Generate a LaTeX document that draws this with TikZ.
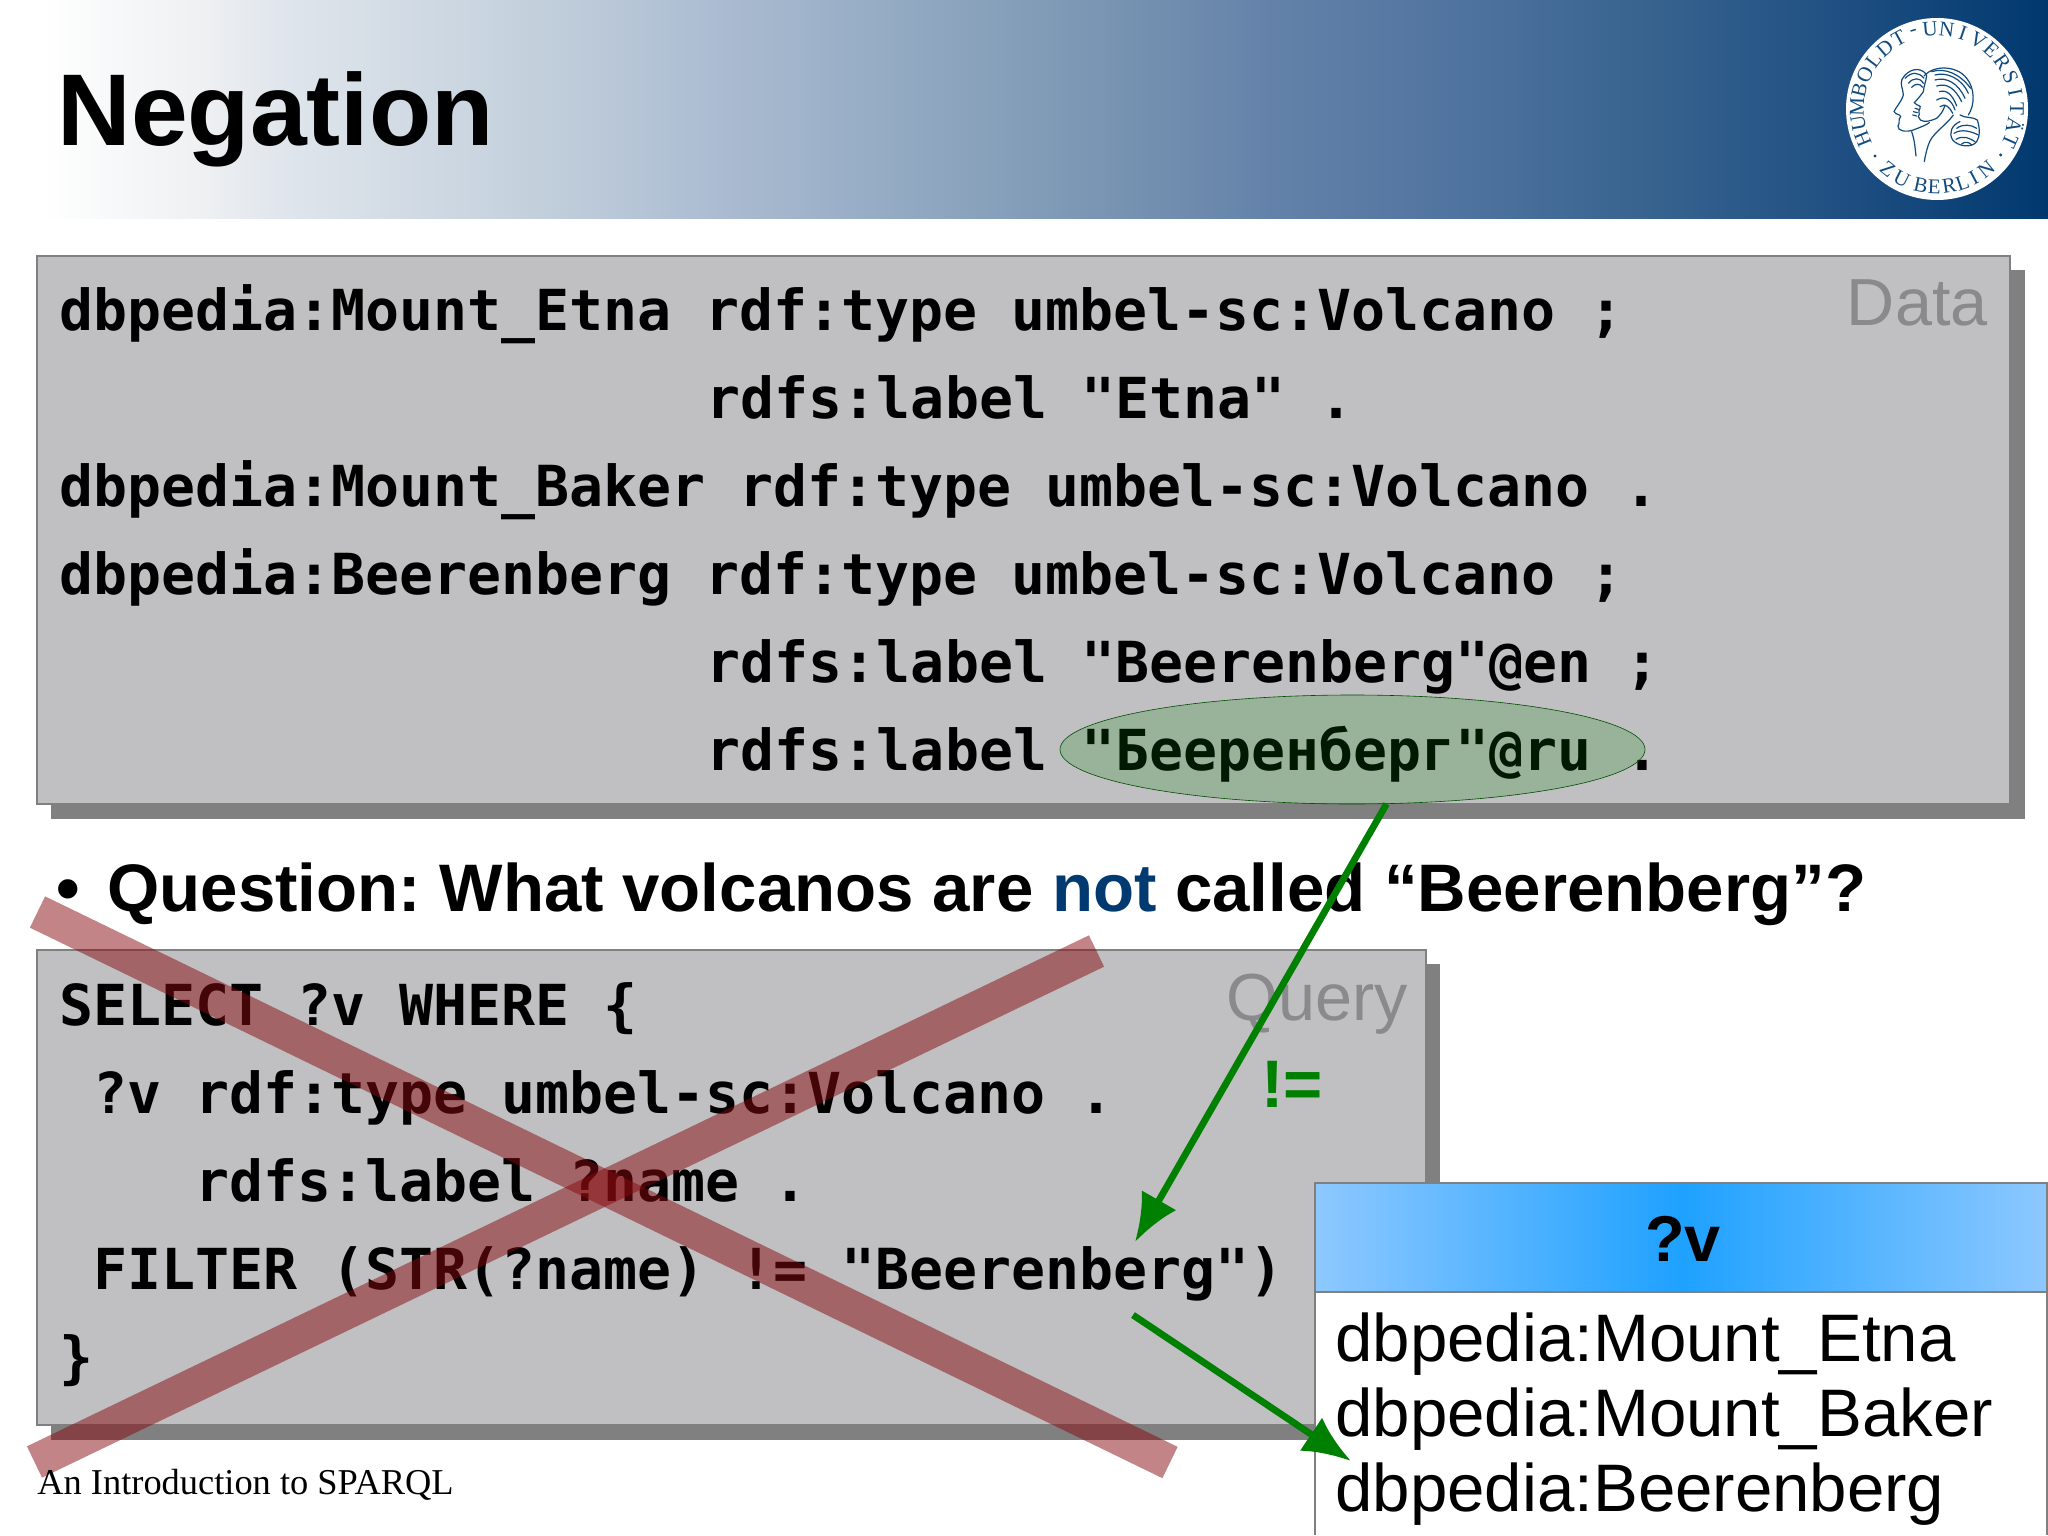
\documentclass[tikz,border=0pt]{standalone}
\usepackage{fontspec}
\usepackage{tikz}
\usetikzlibrary{arrows.meta,shapes.geometric,calc}
\setmainfont{Liberation Sans}
\newfontfamily\codefont{DejaVu Sans Mono}
\newfontfamily\footfont{Liberation Serif}
\definecolor{boxgray}{HTML}{C0BFC1}
\definecolor{shadowgray}{HTML}{808080}
\definecolor{labelgray}{HTML}{8A8A8C}
\definecolor{notblue}{HTML}{003A70}
\definecolor{arrowgreen}{HTML}{008000}
\definecolor{crossred}{HTML}{880A10}
\definecolor{tableedge}{HTML}{8EC8FF}
\definecolor{tablemid}{HTML}{1EA1FF}
\definecolor{logoblue}{HTML}{114B7E}
\pgfdeclarehorizontalshading{bannershade}{100bp}{rgb(0bp)=(1,1,1); rgb(26bp)=(1,1,1); rgb(30bp)=(.933,.941,.949); rgb(32bp)=(.875,.898,.925); rgb(38bp)=(.765,.816,.863); rgb(42bp)=(.682,.745,.827); rgb(46bp)=(.596,.682,.776); rgb(51bp)=(.494,.6,.71); rgb(56bp)=(.392,.51,.663); rgb(61bp)=(.306,.447,.62); rgb(65bp)=(.22,.392,.561); rgb(70bp)=(.122,.31,.51); rgb(75bp)=(0,.22,.431); rgb(100bp)=(0,.22,.431)}
\tikzset{
    codeline/.style={anchor=base west,inner sep=0pt,font=\codefont\bfseries\fontsize{28.25}{34}\selectfont},
    sansline/.style={anchor=base west,inner sep=0pt,font=\bfseries\fontsize{33.6}{40}\selectfont},
    boxlabel/.style={anchor=base east,inner sep=0pt,text=labelgray,font=\fontsize{33.3}{40}\selectfont},
    rowline/.style={anchor=base west,inner sep=0pt,font=\fontsize{33.6}{40}\selectfont},
    slidebox/.style={fill=boxgray,draw=shadowgray,line width=0.6pt},
    slideshadow/.style={fill=shadowgray},
    crossbar/.style={draw=crossred,opacity=0.5,line width=17.4pt},
    greenarrow/.style={draw=arrowgreen,line width=3.4pt,-{Latex[length=24pt,width=20pt]}},
    sealletter/.style={inner sep=0pt,text=logoblue,font=\footfont\fontsize{10.5}{12}\selectfont},
    sealline/.style={draw=logoblue,line width=0.6pt,line cap=round}
}
\begin{document}
\begin{tikzpicture}[x=0.5pt,y=-0.5pt]
    \useasboundingbox (0,0) rectangle (2048,1535);
    \fill[white] (0,0) rectangle (2048,1535);
    \shade[shading=bannershade] (0,0) rectangle (2048,219);
    \node[sansline,font=\bfseries\fontsize{51}{60}\selectfont] (title) at (57,146) {Negation};

    \fill[white] (1937,109) circle (91);
    \foreach \ch [count=\i from 0] in {H,U,M,B,O,L,D,T,-,U,N,I,V,E,R,S,I,T,Ä,T}{
        \pgfmathsetmacro{\ang}{202-\i*11.9}
        \node[sealletter,rotate=\ang-90] (sealtop\i) at ($(1937,109)+(-\ang:80)$) {\ch};
    }
    \foreach \ch/\ang in {Z/231,U/243,B/258,E/268,R/279,L/289,I/298,N/309}{
        \node[sealletter,rotate=\ang+90] (sealbot\ang) at ($(1937,109)+(-\ang:78)$) {\ch};
    }
    \begin{scope}[shift={(1780,0)},scale=0.3333]
        \fill[logoblue] (285,468) circle (5) (662,465) circle (5);
        \draw[sealline] (366,238) .. controls (385,205) and (420,200) .. (438,222);
        \draw[sealline] (366,238) .. controls (360,255) and (368,262) .. (370,285) .. controls (365,305) and (345,325) .. (342,335) .. controls (348,345) and (360,342) .. (362,350) .. controls (352,360) and (362,368) .. (354,378) .. controls (352,392) and (375,398) .. (400,390) .. controls (420,382) and (440,375) .. (448,368);
        \draw[sealline] (395,395) .. controls (405,425) and (405,445) .. (408,468);
        \draw[sealline] (375,235) .. controls (395,215) and (415,215) .. (432,235) (385,250) .. controls (400,232) and (420,232) .. (430,250) (395,262) .. controls (405,250) and (420,250) .. (428,262);
        \draw[sealline] (432,228) .. controls (460,195) and (530,195) .. (560,235) .. controls (585,265) and (585,315) .. (565,345);
        \draw[sealline] (440,225) .. controls (438,245) and (432,255) .. (430,275) .. controls (420,290) and (410,300) .. (403,308) .. controls (410,318) and (425,315) .. (420,325) .. controls (412,335) and (422,340) .. (415,350) .. controls (420,368) and (440,368) .. (470,355) .. controls (480,345) and (490,335) .. (495,315);
        \draw[sealline] (520,345) .. controls (495,380) and (455,400) .. (445,435) .. controls (440,450) and (436,465) .. (433,485);
        \draw[sealline] (465,225) .. controls (500,215) and (545,235) .. (565,280) (465,240) .. controls (500,230) and (535,250) .. (555,295) (470,258) .. controls (500,248) and (525,265) .. (545,305) (478,275) .. controls (500,268) and (518,285) .. (530,318) (455,215) .. controls (495,202) and (540,222) .. (572,265);
        \draw[sealline] (470,300) .. controls (495,285) and (515,300) .. (525,330) (480,320) .. controls (495,308) and (510,322) .. (518,340) (540,345) .. controls (555,355) and (580,350) .. (592,360) .. controls (600,385) and (600,410) .. (590,425) .. controls (575,445) and (535,440) .. (518,420) .. controls (505,400) and (515,375) .. (540,365);
        \draw[sealline] (530,385) .. controls (550,370) and (575,375) .. (590,385) (522,400) .. controls (545,385) and (575,395) .. (595,405) (528,418) .. controls (550,405) and (570,415) .. (585,425) (545,432) .. controls (555,422) and (570,428) .. (575,435);
        \draw[sealline] (405,325) -- (415,328) (400,335) -- (412,338) (398,345) -- (410,348);
    \end{scope}

    \fill[slideshadow] (51,270) rectangle (2025,819);
    \fill[slidebox] (37,256) rectangle (2010,804);
    \node[codeline] (dataa) at (59,330.5) {dbpedia:Mount\_Etna rdf:type umbel-sc:Volcano ;};
    \node[codeline] (datab) at (706.5,418.5) {rdfs:label "Etna" .};
    \node[codeline] (datac) at (59,506.5) {dbpedia:Mount\_Baker rdf:type umbel-sc:Volcano .};
    \node[codeline] (datad) at (59,594.5) {dbpedia:Beerenberg rdf:type umbel-sc:Volcano ;};
    \node[codeline] (datae) at (706.5,682.5) {rdfs:label "Beerenberg"@en ;};
    \node[codeline] (dataf) at (706.5,770.5) {rdfs:label "Бееренберг"@ru .};
    \node[boxlabel] (datalabel) at (1988,326) {Data};
    \node[ellipse,minimum width=292.5pt,minimum height=54.5pt,inner sep=0pt,fill=arrowgreen,fill opacity=0.2,draw=arrowgreen!60!black,line width=0.3pt] (runame) at (1352.5,749.5) {};

    \node[sansline] (bullet) at (56,911) {•};
    \node[sansline] (question) at (107,911) {\frenchspacing Question: What volcanos are \textcolor{notblue}{not} called “Beerenberg”?};

    \fill[slideshadow] (51,964) rectangle (1440,1440);
    \fill[slidebox] (37,950) rectangle (1426,1425);
    \node[codeline] (querya) at (59,1025.5) {SELECT ?v WHERE \{};
    \node[codeline] (queryb) at (93,1113.5) {?v rdf:type umbel-sc:Volcano .};
    \node[codeline] (queryc) at (195,1201.5) {rdfs:label ?name .};
    \node[codeline] (queryd) at (93,1289.5) {FILTER (STR(?name) != "Beerenberg")};
    \node[codeline] (querye) at (59,1377.5) {\}};
    \node[boxlabel] (querylabel) at (1408,1020) {Query};
    \node[sansline,text=arrowgreen] (notequal) at (1261,1107) {!=};
    \draw[crossbar] (37.5,912) -- (1170,1462.5);
    \draw[crossbar] (34.5,1462) -- (1096.5,951);

    \node[rowline] (footer) at (37,1494) {\footfont\fontsize{18.2}{22}\selectfont An Introduction to SPARQL};

    \fill[white] (1315,1183) rectangle (2048,1535);
    \shade[left color=tableedge,right color=tableedge,middle color=tablemid] (1315,1183) rectangle (2048,1292);
    \draw[shadowgray,line width=0.6pt] (1315,1535) -- (1315,1183) -- (2047,1183) -- (2047,1535);
    \draw[shadowgray,line width=0.6pt] (1315,1292) -- (2047,1292);
    \node[sansline,anchor=base,font=\bfseries\fontsize{32.4}{38}\selectfont] (vhead) at (1683,1261) {?v};
    \node[rowline] (rowa) at (1335,1361.5) {dbpedia:Mount\_Etna};
    \node[rowline] (rowb) at (1335,1436.5) {dbpedia:Mount\_Baker};
    \node[rowline] (rowc) at (1335,1511.5) {dbpedia:Beerenberg};

    \coordinate (filterin) at (1135,1242);
    \coordinate (filterout) at (1133,1315);
    \coordinate (rowhit) at (1351,1461);
    \draw[greenarrow] (runame.-58) -- (filterin);
    \draw[greenarrow] (filterout) -- (rowhit);
\end{tikzpicture}
\end{document}
